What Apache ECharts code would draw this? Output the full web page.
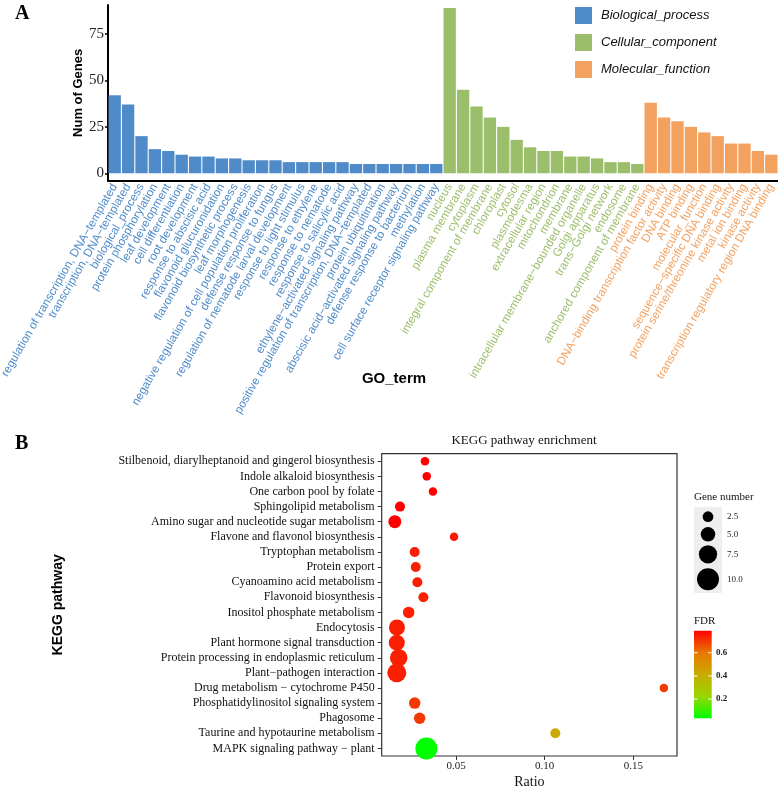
<!DOCTYPE html>
<html>
<head>
<meta charset="utf-8">
<script src="https://cdn.jsdelivr.net/npm/echarts@6/dist/echarts.min.js"></script>
<style>
  html, body { margin: 0; padding: 0; background: #fff; }
  #chart { width: 778px; height: 786px; }
</style>
</head>
<body>
<div id="chart"></div>
<script>
// ---- panel A : GO terms ----
const bpTerms = ['regulation of transcription, DNA−templated', 'transcription, DNA−templated', 'biological_process',
    'protein phosphorylation', 'leaf development', 'cell differentiation', 'root development', 'response to abscisic acid',
    'flavonoid glucuronidation', 'flavonoid biosynthetic process', 'leaf morphogenesis',
    'negative regulation of cell population proliferation', 'defense response to fungus',
    'regulation of nematode larval development', 'response to light stimulus', 'response to ethylene',
    'response to nematode', 'response to salicylic acid', 'ethylene−activated signaling pathway',
    'positive regulation of transcription, DNA−templated', 'protein ubiquitination',
    'abscisic acid−activated signaling pathway', 'defense response to bacterium', 'methylation',
    'cell surface receptor signaling pathway']
const bpCounts = [42, 37, 20, 13, 12, 10, 9, 9, 8, 8, 7, 7, 7, 6, 6, 6, 6, 6, 5, 5, 5, 5, 5, 5, 5]

const ccTerms = ['nucleus', 'plasma membrane', 'cytoplasm', 'integral component of membrane', 'chloroplast', 'cytosol',
    'plasmodesma', 'extracellular region', 'mitochondrion', 'membrane', 'intracellular membrane−bounded organelle',
    'Golgi apparatus', 'trans−Golgi network', 'endosome', 'anchored component of membrane']
const ccCounts = [89, 45, 36, 30, 25, 18, 14, 12, 12, 9, 9, 8, 6, 6, 5]

const mfTerms = ['protein binding', 'DNA−binding transcription factor activity', 'DNA binding', 'ATP binding',
    'molecular_function', 'sequence−specific DNA binding', 'protein serine/threonine kinase activity',
    'metal ion binding', 'kinase activity', 'transcription regulatory region DNA binding']
const mfCounts = [38, 30, 28, 25, 22, 20, 16, 16, 12, 10]

const goGroups = ['Biological_process', 'Cellular_component', 'Molecular_function']
const goColors = ['#4F8BC9', '#9BBE6A', '#F3A15F']
const goTicks = [0, 25, 50, 75]

// ---- panel B : KEGG ----
const keggPathways = ['Stilbenoid, diarylheptanoid and gingerol biosynthesis', 'Indole alkaloid biosynthesis',
    'One carbon pool by folate', 'Sphingolipid metabolism', 'Amino sugar and nucleotide sugar metabolism',
    'Flavone and flavonol biosynthesis', 'Tryptophan metabolism', 'Protein export', 'Cyanoamino acid metabolism',
    'Flavonoid biosynthesis', 'Inositol phosphate metabolism', 'Endocytosis', 'Plant hormone signal transduction',
    'Protein processing in endoplasmic reticulum', 'Plant−pathogen interaction', 'Drug metabolism − cytochrome P450',
    'Phosphatidylinositol signaling system', 'Phagosome', 'Taurine and hypotaurine metabolism',
    'MAPK signaling pathway − plant']
const keggRatio = [0.0325, 0.0335, 0.037, 0.0184, 0.0155, 0.0489, 0.0267, 0.0273, 0.0282, 0.0316, 0.0233,
    0.0167, 0.0166, 0.0177, 0.0166, 0.1672, 0.0267, 0.0295, 0.106, 0.0333]
const keggGenes = [1, 1, 1, 2, 4, 1, 2, 2, 2, 2, 3, 6, 6, 7, 8, 1, 3, 3, 2, 10]
const keggFdr = [0.79, 0.79, 0.79, 0.79, 0.79, 0.75, 0.74, 0.74, 0.74, 0.74, 0.74, 0.74, 0.74, 0.74, 0.74,
    0.70, 0.70, 0.70, 0.42, 0.034]
const ratioTicks = [0.05, 0.10, 0.15]
const sizeLegend = [2.5, 5.0, 7.5, 10.0]
const fdrTicks = [0.6, 0.4, 0.2]
const fdrMin = 0.034, fdrMax = 0.79
// ggplot green->red gradient (interpolated in Lab)
const fdrColors = ['#00FF00', '#98D700', '#C9AB00', '#E87700', '#FF0000']

const SANS = 'Liberation Sans'
const SERIF = 'Liberation Serif'

const goTerms = bpTerms.concat(ccTerms, mfTerms)
const groupOf = i => i < bpTerms.length ? 0 : (i < bpTerms.length + ccTerms.length ? 1 : 2)
const goCounts = [bpCounts, ccCounts, mfCounts]

const pointSize = n => 7 + 1.5 * n

// colour bar layout
const cbar = { x: 694, y: 630.7, w: 17.7, h: 87.6 }
const cbarY = v => cbar.y + (fdrMax - v) / (fdrMax - fdrMin) * cbar.h
const sizeKeyY = [516.7, 534.3, 554.3, 579.3]

const barSeries = goGroups.map((name, g) => ({
    name: name,
    type: 'bar',
    stack: 'go',
    xAxisIndex: 0,
    yAxisIndex: 0,
    barCategoryGap: '8%',
    itemStyle: { color: goColors[g] },
    data: goTerms.map((t, i) => {
        if (groupOf(i) !== g) return '-'
        let offset = g === 0 ? 0 : (g === 1 ? bpTerms.length : bpTerms.length + ccTerms.length)
        return goCounts[g][i - offset]
    })
}))

const graphics = [
    { type: 'text', style: { text: 'A', x: 15, y: 14, fontSize: 20, fontWeight: 'bold', fontFamily: SERIF, fill: '#000', textVerticalAlign: 'middle', verticalAlign: 'middle' } },
    { type: 'text', style: { text: 'B', x: 15, y: 444, fontSize: 20, fontWeight: 'bold', fontFamily: SERIF, fill: '#000', textVerticalAlign: 'middle', verticalAlign: 'middle' } },
    { type: 'text', style: { text: 'GO_term', x: 394, y: 379, fontSize: 15, fontWeight: 'bold', fontFamily: SANS, fill: '#000', textAlign: 'center', align: 'center', textVerticalAlign: 'middle', verticalAlign: 'middle' } },
    { type: 'text', style: { text: 'KEGG pathway enrichment', x: 524, y: 441, fontSize: 13, fontFamily: SERIF, fill: '#111', textAlign: 'center', align: 'center', textVerticalAlign: 'middle', verticalAlign: 'middle' } },
    { type: 'text', style: { text: 'Gene number', x: 694, y: 497, fontSize: 11, fontFamily: SERIF, fill: '#111', textVerticalAlign: 'middle', verticalAlign: 'middle' } },
    { type: 'rect', shape: { x: 694, y: 507, width: 28, height: 86 }, style: { fill: '#EEEEEE' } },
    { type: 'text', style: { text: 'FDR', x: 694, y: 621, fontSize: 11, fontFamily: SERIF, fill: '#111', textVerticalAlign: 'middle', verticalAlign: 'middle' } },
    {
        type: 'rect', shape: { x: cbar.x, y: cbar.y, width: cbar.w, height: cbar.h },
        style: {
            fill: new echarts.graphic.LinearGradient(0, 0, 0, 1, fdrColors.slice().reverse().map((c, i) => ({ offset: i / (fdrColors.length - 1), color: c })))
        }
    }
]
sizeLegend.forEach((v, i) => {
    graphics.push({ type: 'circle', shape: { cx: 708, cy: sizeKeyY[i], r: pointSize(v) / 2 }, style: { fill: '#000' } })
    graphics.push({ type: 'text', style: { text: v.toFixed(1), x: 727, y: sizeKeyY[i], fontSize: 9, fontFamily: SERIF, fill: '#222', textVerticalAlign: 'middle', verticalAlign: 'middle' } })
})
fdrTicks.forEach(v => {
    let y = cbarY(v)
    graphics.push({ type: 'line', shape: { x1: cbar.x, y1: y, x2: cbar.x + 3.5, y2: y }, style: { stroke: '#fff', lineWidth: 1 } })
    graphics.push({ type: 'line', shape: { x1: cbar.x + cbar.w - 3.5, y1: y, x2: cbar.x + cbar.w, y2: y }, style: { stroke: '#fff', lineWidth: 1 } })
    graphics.push({ type: 'text', style: { text: v.toFixed(1), x: 716, y: y, fontSize: 9, fontWeight: 'bold', fontFamily: SERIF, fill: '#222', textVerticalAlign: 'middle', verticalAlign: 'middle' } })
})

const myChart = echarts.init(document.getElementById('chart'), null, { renderer: 'canvas' })
myChart.setOption({
    animation: false,
    backgroundColor: '#fff',
    textStyle: { fontFamily: SANS },
    legend: {
        data: goGroups,
        orient: 'vertical',
        left: 570, top: 2,
        itemWidth: 17, itemHeight: 17, itemGap: 10,
        icon: 'rect',
        selectedMode: false,
        textStyle: { fontStyle: 'italic', fontSize: 13, fontFamily: SANS, color: '#111', padding: [0, 0, 0, 4] }
    },
    grid: [
        { left: 108, top: 5, width: 670, height: 175.7, outerBoundsMode: 'none', containLabel: false },
        { left: 381.7, top: 453.7, width: 295.3, height: 302.3, outerBoundsMode: 'none', containLabel: false, show: true, borderColor: '#333', borderWidth: 1.2, backgroundColor: 'transparent' }
    ],
    xAxis: [
        {
            type: 'category', gridIndex: 0, data: goTerms,
            axisLine: { onZero: false, lineStyle: { color: '#000', width: 2 } },
            axisTick: { alignWithLabel: true, length: 3, lineStyle: { color: '#000', width: 1.5 } },
            axisLabel: {
                interval: 0, rotate: 60, margin: 4, fontSize: 11.7, fontFamily: SANS,
                color: (value, index) => goColors[groupOf(index)]
            }
        },
        {
            type: 'value', gridIndex: 1, min: 0.0081, max: 0.1746,
            name: 'Ratio', nameLocation: 'middle', nameGap: 19, nameMoveOverlap: false,
            nameTextStyle: { fontSize: 14, fontFamily: SERIF, color: '#111' },
            axisLine: { show: false },
            axisTick: { show: true, length: 4, customValues: ratioTicks, lineStyle: { color: '#333' } },
            axisLabel: { customValues: ratioTicks, margin: 5, fontSize: 11, fontFamily: SERIF, color: '#222', formatter: v => v.toFixed(2) },
            splitLine: { show: false }
        }
    ],
    yAxis: [
        {
            type: 'value', gridIndex: 0, min: -4, max: 90.6,
            name: 'Num of Genes', nameLocation: 'middle', nameGap: 23.5, nameMoveOverlap: false,
            nameTextStyle: { fontSize: 13, fontWeight: 'bold', fontFamily: SANS, color: '#000' },
            axisLine: { show: true, lineStyle: { color: '#000', width: 2 } },
            axisTick: { show: true, length: 3, customValues: goTicks, lineStyle: { color: '#000', width: 1.5 } },
            axisLabel: { customValues: goTicks, margin: 4, fontSize: 15, fontFamily: SERIF, color: '#222' },
            splitLine: { show: false }
        },
        {
            type: 'category', gridIndex: 1, data: keggPathways, inverse: true,
            name: 'KEGG pathway', nameLocation: 'middle', nameGap: 317, nameMoveOverlap: false,
            nameTextStyle: { fontSize: 14, fontWeight: 'bold', fontFamily: SANS, color: '#000' },
            axisLine: { show: false },
            axisTick: { show: true, alignWithLabel: true, length: 4, lineStyle: { color: '#333' } },
            axisLabel: { interval: 0, margin: 7, fontSize: 12, fontFamily: SERIF, color: '#111' },
            splitLine: { show: false }
        }
    ],
    visualMap: {
        show: false,
        seriesIndex: 3,
        dimension: 3,
        min: fdrMin, max: fdrMax,
        inRange: { color: fdrColors }
    },
    graphic: graphics,
    series: barSeries.concat([{
        type: 'scatter',
        xAxisIndex: 1,
        yAxisIndex: 1,
        symbolSize: val => pointSize(val[2]),
        itemStyle: { opacity: 1 },
        data: keggPathways.map((p, i) => [keggRatio[i], p, keggGenes[i], keggFdr[i]])
    }])
})
</script>
</body>
</html>
